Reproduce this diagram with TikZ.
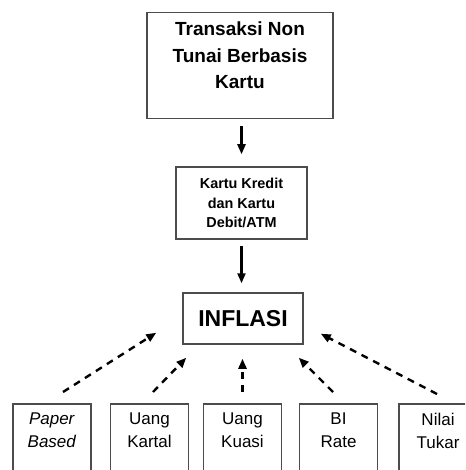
\documentclass[tikz,border=0pt]{standalone}
\usepackage{fontspec}
\setmainfont{Liberation Sans}
\usepackage{xcolor}
\usetikzlibrary{arrows.meta,positioning}

\definecolor{boxgray}{gray}{0.3}

\tikzset{
  boxline/.style={draw=boxgray, line width=1.5pt},
  solidarrow/.style={-{Triangle[length=10pt,width=8pt]}, line width=2.2pt},
  dasharrow/.style={-{Triangle[length=10pt,width=8pt]}, line width=2.4pt,
    dash pattern=on 7pt off 6pt},
  lowtext/.style={anchor=north, align=center, inner sep=0pt, yshift=-10pt,
    font=\fontsize{17}{23}\selectfont},
  lowbox/.style={boxline, minimum width=78, minimum height=90, anchor=north,
    label={[lowtext]north:#1}}
}

\begin{document}
\begin{tikzpicture}[x=1pt,y=-1pt]
    \clip (0,0) rectangle (465,470);

    % Kotak atas
    \node (trx) [boxline, minimum width=186, minimum height=106, anchor=north,
      label={[anchor=north, align=center, inner sep=0pt, yshift=-10pt,
        font=\fontsize{19}{26.5}\bfseries]north:Transaksi Non\\Tunai Berbasis\\Kartu}]
      at (240,12) {};

    \node (kartu) [boxline, minimum width=131, minimum height=72, align=center,
      font=\fontsize{14.4}{19.5}\bfseries] at (241.5,203)
      {Kartu Kredit\\dan Kartu\\Debit/ATM};

    \node (inflasi) [boxline, minimum width=120, minimum height=51,
      font=\fontsize{23}{27}\bfseries] at (243,318.5) {INFLASI};

    % Panah utama
    \draw[solidarrow, shorten <=7pt, shorten >=12pt] (kartu.north |- trx.south) -- (kartu.north);
    \draw[solidarrow, shorten <=6pt, shorten >=9pt] (kartu.south) -- (kartu.south |- inflasi.north);

    % Faktor lain
    \node (paper) [lowbox={\textit{Paper}\\\textit{Based}}] at (52,403) {};
    \node (kartal) [lowbox={Uang\\Kartal}] at (149.5,403) {};
    \node (kuasi) [lowbox={Uang\\Kuasi}] at (242.5,403) {};
    \node (rate) [lowbox={BI\\Rate}] at (338.5,403) {};
    \node (tukar) [lowbox={Nilai\\Tukar}] at (438,403) {};

    % Panah putus-putus ke inflasi
    \draw[dasharrow] ([shift={(11,-11)}]paper.north) -- ([shift={(-26,-12)}]inflasi.south west);
    \draw[dasharrow] ([shift={(3.5,-11)}]kartal.north) -- ([shift={(4,13)}]inflasi.south west);
    \draw[dasharrow] ([shift={(0,-11)}]kuasi.north) -- ([shift={(-0.5,14)}]inflasi.south);
    \draw[dasharrow] ([shift={(-5.5,-11)}]rate.north) -- ([shift={(-5,13)}]inflasi.south east);
    \draw[dasharrow] ([shift={(-1,-9)}]tukar.north) -- ([shift={(17,-11)}]inflasi.south east);
\end{tikzpicture}
\end{document}
